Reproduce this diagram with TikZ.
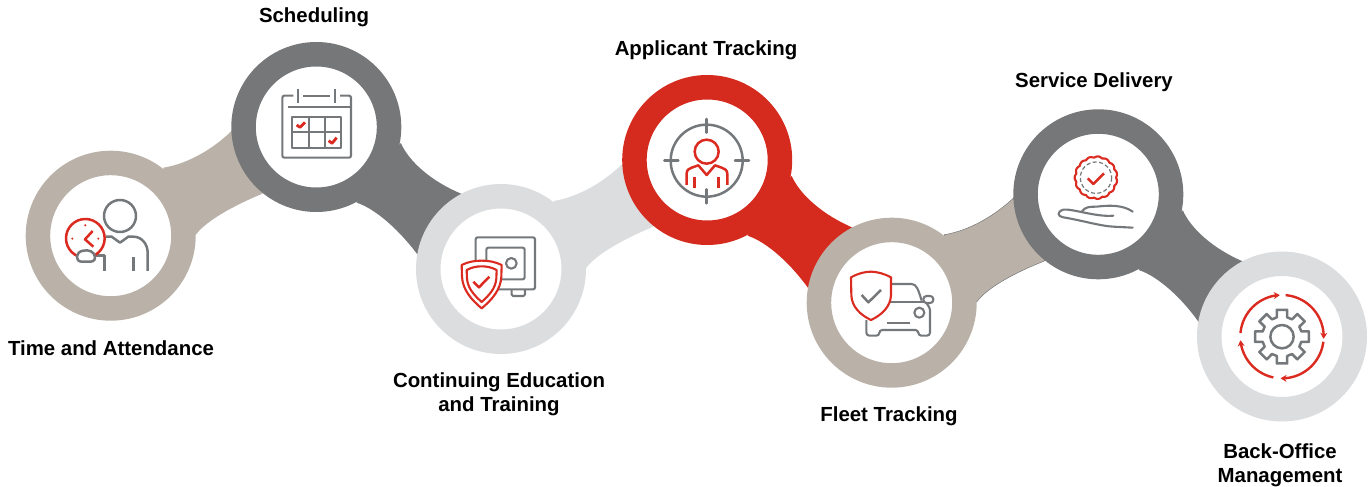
\documentclass[tikz,border=0pt]{standalone}
\usepackage{fontspec}
\setmainfont{Liberation Sans}
\usetikzlibrary{calc,backgrounds,arrows.meta}
\definecolor{ctan}{HTML}{BAB2A9}
\definecolor{cgray}{HTML}{767778}
\definecolor{clight}{HTML}{DCDDDF}
\definecolor{cred}{HTML}{D52B1E}
\definecolor{igray}{HTML}{75787B}
\definecolor{ired}{HTML}{DB2A1F}
\tikzset{
  ring/.style={circle,draw=#1,line width=24.5pt,fill=white,minimum size=145.5pt,inner sep=0pt,outer sep=0pt},
  label/.style={font=\fontsize{20.4}{24}\selectfont\bfseries,align=center,text=black,inner sep=0pt},
  zs/.style 2 args={shift={(#1,#2)},x=0.33333pt,y=-0.33333pt},
  ig/.style={draw=igray,line width=2.5pt,line join=round},
  ir/.style={draw=ired,line width=2.5pt,line join=round},
  thin ig/.style={draw=igray,line width=2.1pt,line join=round},
  thin ir/.style={draw=ired,line width=2.1pt,line join=round},
}
\newcommand{\upconn}[4][none]{%
  \fill[#4,draw=#1,line width=.5pt]
    ($(#2)+(52.6,-68)$) .. controls ($(#2)+(78,-72)$) and ($(#2)+(105,-88)$) .. ($(#3)+(-81.6,0.7)$)
    -- ($(#3)+(-45.6,58.7)$) -- ($(#3)+(-54.6,67)$)
    .. controls ($(#2)+(125,-31)$) and ($(#2)+(95,-15)$) .. ($(#2)+(85,-0.7)$)
    -- ($(#2)+(60,-30)$) -- cycle;}
\newcommand{\downconn}[3]{%
  \fill[#3]
    ($(#1)+(84.5,16)$) .. controls ($(#1)+(92,33)$) and ($(#1)+(113,54)$) .. ($(#2)+(-36.7,-74)$)
    -- ($(#2)+(-59.7,-32)$) -- ($(#2)+(-81.7,-12)$)
    .. controls ($(#1)+(85,105)$) and ($(#1)+(60,82)$) .. ($(#1)+(40.4,75.7)$)
    -- ($(#1)+(60,40)$) -- cycle;}
\begin{document}
\begin{tikzpicture}[x=1pt,y=-1pt]
\useasboundingbox (0,0) rectangle (1369,487);
\node[ring=ctan]   (c1) at (110.7,235.7) {};
\node[ring=cgray]  (c2) at (316.3,127) {};
\node[ring=clight] (c3) at (501,269) {};
\node[ring=cred]   (c4) at (707.2,160) {};
\node[ring=ctan]   (c5) at (891.7,302.7) {};
\node[ring=cgray]  (c6) at (1098.3,194.3) {};
\node[ring=clight] (c7) at (1282,336.5) {};
\begin{scope}[on background layer]
  \upconn{c1}{c2}{ctan}
  \downconn{c2}{c3}{cgray}
  \upconn{c3}{c4}{clight}
  \downconn{c4}{c5}{cred}
  \upconn[cgray]{c5}{c6}{ctan}
  \downconn{c6}{c7}{cgray}
\end{scope}
% labels
\node[label] (l1) at (111,348.5) {Time and Attendance};
\node[label] (l2) at (314,17.5) {Scheduling};
\node[label] (l3) at (499,394.5) {Continuing Education\\and Training};
\node[label] (l4) at (706,50.5) {Applicant Tracking};
\node[label] (l5) at (889,416.5) {Fleet Tracking};
\node[label] (l6) at (1094,82.5) {Service Delivery};
\node[label] (l7) at (1280,465.5) {Back-Office\\Management};
% icon 1
\begin{scope}[zs={20}{120}]
  \draw[ig] (300,288) circle[radius=48];
  \draw[ig] (258,350) -- (275,350) -- (300,368) -- (325,350) -- (340,350) .. controls (365,350) and (383,372) .. (383,398) -- (383,453);
  \draw[ig] (340,412) -- (340,453);
  \draw[ig] (225,407) -- (253,407) -- (253,453);
  \draw[ir] (196,355) circle[radius=58];
  \fill[ired] (196,316) circle[radius=3.5] (157,356) circle[radius=3.5] (235,356) circle[radius=3.5];
  \draw[ir] (218,333) -- (195,358) -- (220,380);
  \draw[ig,fill=white] (190,392) .. controls (205,388) and (225,395) .. (225,412) .. controls (225,425) and (215,425) .. (205,425) -- (185,425) .. controls (165,425) and (165,395) .. (190,392) -- cycle;
\end{scope}
% icon 2
\begin{scope}[zs={230}{30}]
  \draw[thin ig,rounded corners=2pt] (190,197) -- (157,197) -- (157,383) -- (363,383) -- (363,197) -- (330,197);
  \draw[thin ig] (220,197) -- (300,197);
  \draw[thin ig] (205,177) -- (205,218) (315,177) -- (315,218);
  \draw[thin ig] (175,232) -- (363,232);
  \draw[thin ig] (187,260) rectangle (333,355);
  \draw[thin ig] (236,260) -- (236,355) (284,260) -- (284,355) (187,307) -- (333,307);
  \draw[ir,line width=2.8pt] (200,285) -- (210,292) -- (225,277);
  \draw[ir,line width=2.8pt] (296,332) -- (306,340) -- (320,323);
\end{scope}
% icon 3
\begin{scope}[zs={410}{170}]
  \draw[thin ig,rounded corners=2pt] (197,202) rectangle (375,358);
  \draw[thin ig,rounded corners=2pt] (229,233) rectangle (344,328);
  \draw[thin ig] (304,280) circle[radius=16];
  \draw[thin ig,rounded corners=1.5pt] (305,358) -- (305,378) -- (345,378) -- (345,358);
  \draw[thin ir,fill=white] (155,285) .. controls (175,275) and (195,272) .. (215,272) .. controls (235,272) and (255,275) .. (275,285) -- (274,320) .. controls (272,360) and (245,390) .. (215,415) .. controls (185,390) and (158,360) .. (156,320) -- cycle;
  \draw[thin ir] (170,300) .. controls (185,292) and (200,289) .. (215,289) .. controls (230,289) and (245,292) .. (260,300) -- (259,325) .. controls (257,355) and (238,375) .. (215,396) .. controls (192,375) and (173,355) .. (171,325) -- cycle;
  \draw[ir] (190,335) -- (207,352) -- (238,320);
\end{scope}
% icon 4
\begin{scope}[zs={610}{70}]
  \draw[ig] (290,272) circle[radius=108];
  \draw[ig,line cap=round] (290,147) -- (290,188) (290,358) -- (290,400) (163,272) -- (205,272) (375,272) -- (417,272);
  \draw[ir] (290,245) circle[radius=36];
  \draw[ir] (230,345) -- (230,310) .. controls (230,300) and (238,295) .. (245,293) -- (265,286) -- (290,315) -- (315,286) -- (335,293) .. controls (344,296) and (352,300) .. (352,312) -- (352,345);
  \draw[ir] (254,322) -- (254,353) (326,322) -- (326,353);
\end{scope}
% icon 5
\begin{scope}[zs={800}{210}]
  \draw[thin ig] (265,222) -- (335,222) .. controls (350,222) and (355,240) .. (365,272);
  \draw[thin ig] (265,275) -- (375,275);
  \draw[thin ig,rounded corners=3pt] (375,275) .. controls (385,285) and (390,295) .. (390,310) -- (390,377) -- (355,377) -- (355,360) -- (238,360) -- (238,377) -- (199,377) -- (199,330);
  \draw[thin ig] (358,308) circle[radius=15];
  \draw[thin ig] (262,339) -- (330,339);
  \draw[thin ig,fill=white,rounded corners=3.2pt] (370,258) rectangle (400,279);
  \draw[thin ir,fill=white] (153,202) .. controls (175,190) and (195,185) .. (213,185) .. controls (231,185) and (255,192) .. (273,202) -- (273,255) .. controls (272,290) and (245,315) .. (213,330) .. controls (181,315) and (155,290) .. (154,255) -- cycle;
  \draw[ig] (185,255) -- (205,277) -- (243,240);
\end{scope}
% icon 6
\begin{scope}[zs={1000}{100}]
  \draw[thin ir] plot[domain=0:360,samples=193,smooth] ({288+(60+4*abs(sin(7.5*\x)))*cos(\x)},{233+(60+4*abs(sin(7.5*\x)))*sin(\x)}) -- cycle;
  \draw[igray,line width=1.2pt,dash pattern=on 4pt off 2.4pt] (288,233) circle[radius=47];
  \draw[ir] (263,235) -- (280,252) -- (312,220);
  \draw[thin ig,line cap=round] (398,383) -- (340,380) .. controls (300,378) and (250,362) .. (190,352) .. controls (172,350) and (170,335) .. (190,329) .. controls (215,325) and (290,352) .. (340,347);
  \draw[thin ig,line cap=round] (245,335) .. controls (255,320) and (270,320) .. (290,320) .. controls (330,315) and (370,315) .. (398,335);
\end{scope}
% icon 7
\begin{scope}[zs={1190}{260}]
  \draw[ig] (276,230) circle[radius=35];
  \draw[ig] ({276+60*cos(-16)},{230+60*sin(-16)})
   \foreach \a in {0,45,...,315}{
     -- ({276+60*cos(\a-15)},{230+60*sin(\a-15)})
     -- ({276+82*cos(\a-11)},{230+82*sin(\a-11)})
     -- ({276+82*cos(\a+11)},{230+82*sin(\a+11)})
     -- ({276+60*cos(\a+15)},{230+60*sin(\a+15)})
   } -- cycle;
  \foreach \s/\e in {175/93, 85/-3, -7/-92, -102/-175}{
    \draw[ired,line width=2.4pt,-{Stealth[length=6pt,width=7pt]}] plot[domain=\s:\e,samples=30] ({276+125*cos(\x)},{230-125*sin(\x)});
  }
\end{scope}
\end{tikzpicture}
\end{document}
